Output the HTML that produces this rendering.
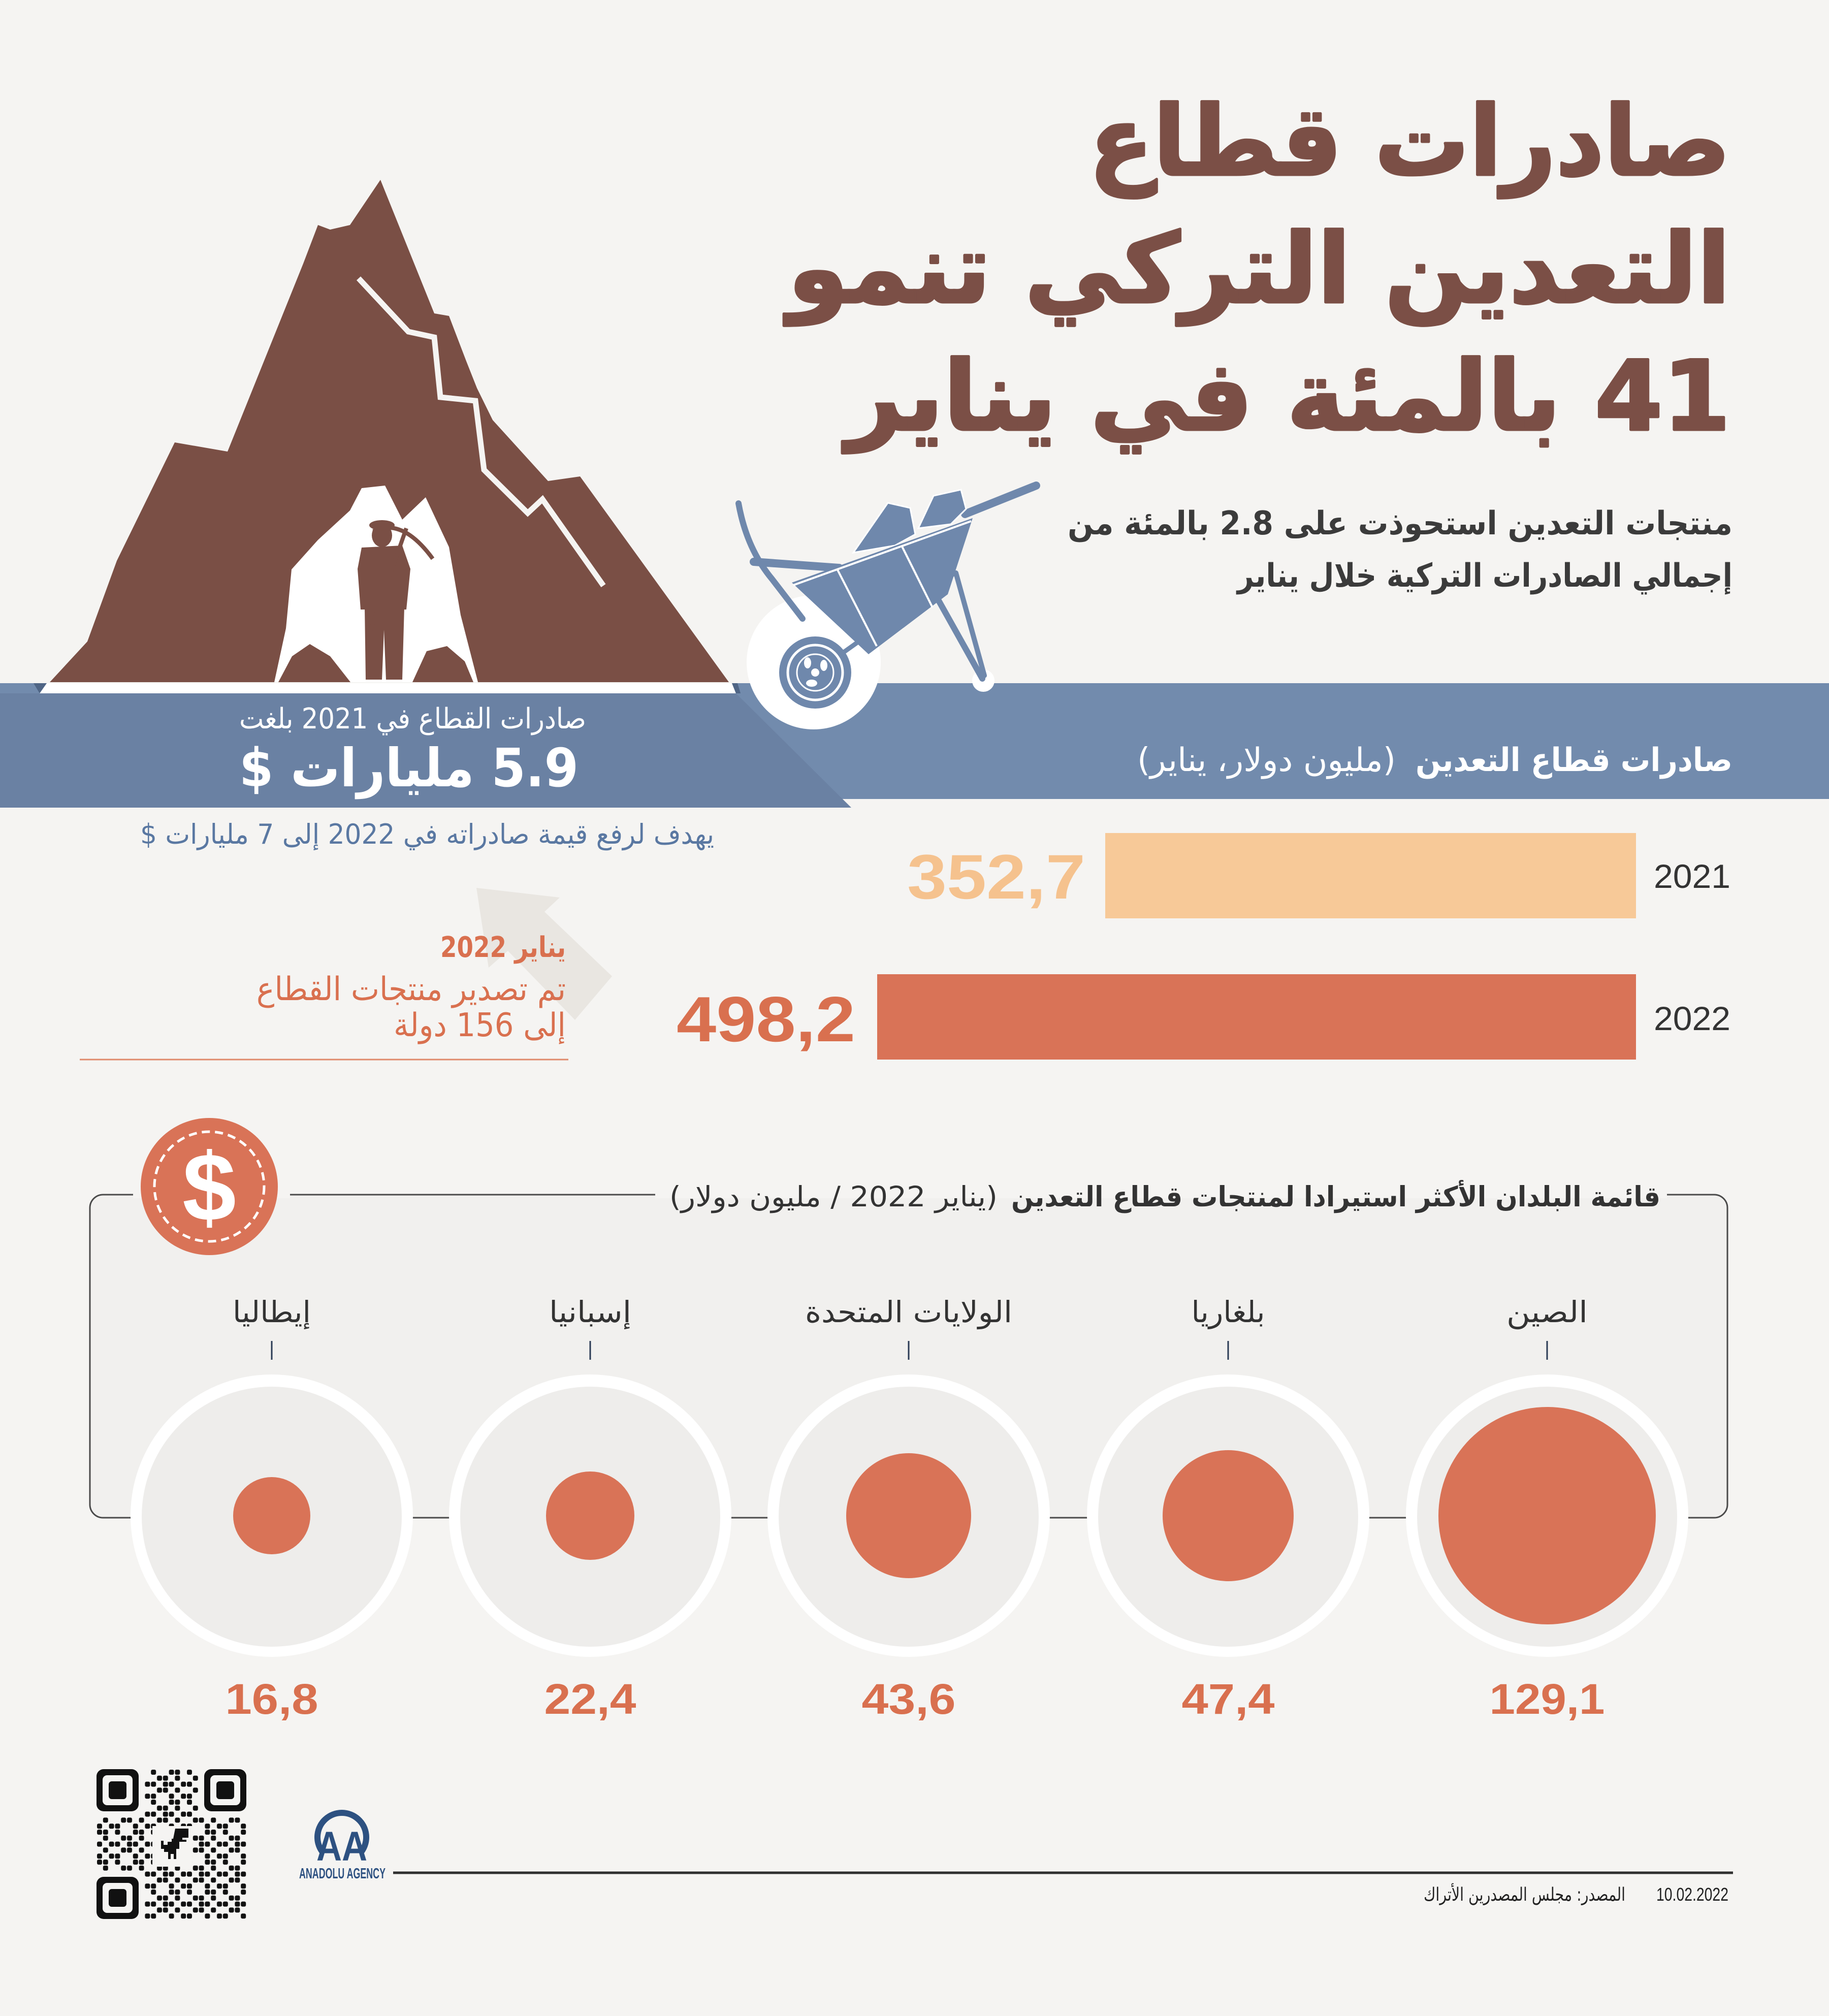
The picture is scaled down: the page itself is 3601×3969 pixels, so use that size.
<!DOCTYPE html>
<html lang="ar">
<head>
<meta charset="utf-8">
<style>
html,body{margin:0;padding:0;background:#f5f4f2;}
svg{display:block;}
.ar{font-family:"DejaVu Sans","Liberation Sans",sans-serif;}
.lat{font-family:"Liberation Sans","DejaVu Sans",sans-serif;}
</style>
</head>
<body>
<svg xmlns="http://www.w3.org/2000/svg" width="3601" height="3969" viewBox="0 0 3601 3969">
<defs>
<pattern id="qr" x="190" y="3483" width="70.8" height="59" patternUnits="userSpaceOnUse">
<g fill="#111">
<rect x="1" y="1" width="10" height="10" rx="3"/><rect x="12.8" y="1" width="10" height="10" rx="3"/><rect x="36.4" y="1" width="10" height="10" rx="3"/>
<rect x="48.2" y="12.8" width="10" height="10" rx="3"/><rect x="60" y="12.8" width="10" height="10" rx="3"/><rect x="12.8" y="12.8" width="10" height="10" rx="3"/>
<rect x="1" y="24.6" width="10" height="10" rx="3"/><rect x="24.6" y="24.6" width="10" height="10" rx="3"/><rect x="36.4" y="24.6" width="10" height="10" rx="3"/><rect x="60" y="24.6" width="10" height="10" rx="3"/>
<rect x="12.8" y="36.4" width="10" height="10" rx="3"/><rect x="48.2" y="36.4" width="10" height="10" rx="3"/><rect x="60" y="36.4" width="10" height="10" rx="3"/>
<rect x="1" y="48.2" width="10" height="10" rx="3"/><rect x="24.6" y="48.2" width="10" height="10" rx="3"/><rect x="36.4" y="48.2" width="10" height="10" rx="3"/>
</g>
</pattern>
</defs>

<rect x="0" y="0" width="3601" height="3969" fill="#f5f4f2"/>

<!-- ===== Mountain ===== -->
<path d="M98 1343 L172 1263 L230 1104 L344 871 L448 889 L597 519 L626 443 L650 452 L689 443 L749 354 L855 617 L884 622 L918 711 L939 764 L970 827 L1079 947 L1142 938 L1435 1343 Z" fill="#7a4f45"/>
<polyline points="706,548 804,653 855,664 867,782 936,789 953,925 1039,1010 1068,983 1188,1153" fill="none" stroke="#f5f4f2" stroke-width="11" stroke-linejoin="miter"/>
<path d="M540 1343 L563 1237 L574 1121 L626 1063 L689 1005 L712 961 L758 956 L792 1023 L838 979 L884 1077 L907 1211 L941 1343 Z" fill="#ffffff"/>
<path d="M548 1343 L575 1292 L610 1268 L650 1292 L690 1343 Z" fill="#7a4f45"/>
<path d="M812 1343 L840 1282 L880 1272 L915 1302 L932 1343 Z" fill="#7a4f45"/>
<g fill="#7a4f45" stroke="none">
<ellipse cx="752" cy="1054" rx="20" ry="23"/>
<ellipse cx="752" cy="1034" rx="25" ry="10"/>
<path d="M712 1078 L792 1074 L808 1120 L800 1200 L710 1200 L704 1120 Z"/>
<path d="M718 1195 L796 1195 L792 1338 L760 1338 L756 1240 L752 1338 L720 1338 Z"/>
</g>
<line x1="728" y1="1245" x2="800" y2="1040" stroke="#7a4f45" stroke-width="8"/>
<path d="M735 1046 Q792 1018 852 1100" fill="none" stroke="#7a4f45" stroke-width="8"/>

<!-- ===== Blue band ===== -->
<rect x="0" y="1345" width="3601" height="228" fill="#728bad"/>
<rect x="0" y="1345" width="90" height="245" fill="#728bad"/>
<path d="M75 1365 L1449 1365 L1676 1590 L0 1590 L0 1365 Z" fill="#6a81a3"/>
<path d="M92 1345 L1441 1345 L1449 1365 L78 1365 Z" fill="#ffffff"/>
<path d="M66 1345 L92 1345 L78 1365 Z" fill="#4f6585"/>
<path d="M1441 1345 L1452 1345 L1458 1365 L1449 1365 Z" fill="#4f6585"/>

<!-- ===== Wheelbarrow ===== -->
<circle cx="1602" cy="1304" r="132" fill="#ffffff"/>
<circle cx="1936" cy="1340" r="22" fill="#ffffff"/>
<g stroke="#6f88ac" stroke-linecap="round" fill="none">
<path d="M1454 991 Q1470 1080 1520 1140 L1580 1218" stroke-width="12"/>
<line x1="1484" y1="1106" x2="1652" y2="1118" stroke-width="16"/>
<line x1="1605" y1="1324" x2="1880" y2="1128" stroke-width="9"/>
<line x1="1840" y1="1168" x2="1934" y2="1336" stroke-width="12"/>
<line x1="1882" y1="1128" x2="1938" y2="1330" stroke-width="10"/>
<line x1="1900" y1="1012" x2="2040" y2="956" stroke-width="16"/>
</g>
<path d="M1680 1088 L1748 990 L1792 1000 L1802 1052 L1762 1074 Z" fill="#6f88ac" stroke="#ffffff" stroke-width="3"/>
<path d="M1808 1040 L1838 976 L1892 964 L1902 1002 L1872 1032 Z" fill="#6f88ac" stroke="#ffffff" stroke-width="3"/>
<path d="M1559 1147 L1915 1020 L1866 1170 L1710 1288 Z" fill="#6f88ac"/>
<line x1="1562" y1="1152" x2="1912" y2="1026" stroke="#ffffff" stroke-width="4"/>
<line x1="1648" y1="1120" x2="1726" y2="1272" stroke="#ffffff" stroke-width="4"/>
<line x1="1775" y1="1074" x2="1836" y2="1196" stroke="#ffffff" stroke-width="4"/>
<circle cx="1605" cy="1324" r="71" fill="#6f88ac"/>
<circle cx="1605" cy="1324" r="54" fill="none" stroke="#ffffff" stroke-width="5"/>
<circle cx="1605" cy="1324" r="36" fill="none" stroke="#ffffff" stroke-width="3"/>
<ellipse cx="1590" cy="1305" rx="7" ry="11" fill="#ffffff"/>
<ellipse cx="1622" cy="1310" rx="7" ry="11" fill="#ffffff"/>
<ellipse cx="1598" cy="1345" rx="11" ry="7" fill="#ffffff"/>
<circle cx="1605" cy="1324" r="8" fill="#ffffff"/>

<!-- ===== Title ===== -->
<g class="ar" font-weight="bold" fill="#7b4f46" stroke="#7b4f46" stroke-width="5" stroke-linejoin="round" font-size="190" text-anchor="end">
<text x="3407" y="344" textLength="1263" lengthAdjust="spacingAndGlyphs">&#x200F;صادرات قطاع&#x200F;</text>
<text x="3407" y="595" textLength="1856" lengthAdjust="spacingAndGlyphs">&#x200F;التعدين التركي تنمو&#x200F;</text>
<text x="3407" y="846" textLength="1741" lengthAdjust="spacingAndGlyphs">&#x200F;41 بالمئة في يناير&#x200F;</text>
</g>

<g class="ar" font-weight="bold" fill="#3b3b3b" font-size="64" text-anchor="end">
<text x="3411" y="1052" textLength="1309" lengthAdjust="spacingAndGlyphs">&#x200F;منتجات التعدين استحوذت على 2.8 بالمئة من&#x200F;</text>
<text x="3411" y="1155" textLength="975" lengthAdjust="spacingAndGlyphs">&#x200F;إجمالي الصادرات التركية خلال يناير&#x200F;</text>
</g>

<text class="ar" x="3411" y="1518" font-size="64" font-weight="bold" fill="#ffffff" text-anchor="end" textLength="624" lengthAdjust="spacingAndGlyphs">&#x200F;صادرات قطاع التعدين&#x200F;</text>
<text class="ar" x="2748" y="1518" font-size="64" fill="#ffffff" text-anchor="end" textLength="509" lengthAdjust="spacingAndGlyphs">&#x200F;(مليون دولار، يناير)&#x200F;</text>
<text class="ar" x="1154" y="1434" font-size="56" fill="#ffffff" text-anchor="end" textLength="683" lengthAdjust="spacingAndGlyphs">&#x200F;صادرات القطاع في 2021 بلغت&#x200F;</text>
<text class="ar" x="1139" y="1548" font-size="104" font-weight="bold" fill="#ffffff" text-anchor="end" textLength="668" lengthAdjust="spacingAndGlyphs">&#x200F;5.9 مليارات $&#x200F;</text>
<text class="ar" x="1406" y="1661" font-size="54" fill="#5a78a2" text-anchor="end" textLength="1130" lengthAdjust="spacingAndGlyphs">&#x200F;يهدف لرفع قيمة صادراته في 2022 إلى 7 مليارات $&#x200F;</text>

<path d="M938 1748 L1102 1767 L1072 1795 L1205 1922 L1132 2008 L1000 1872 L962 1905 Z" fill="#e9e6e1"/>

<g class="ar" fill="#d9704f" text-anchor="end">
<text x="1114" y="1884" font-size="56" font-weight="bold" textLength="247" lengthAdjust="spacingAndGlyphs">&#x200F;يناير 2022&#x200F;</text>
<text x="1114" y="1969" font-size="64" textLength="609" lengthAdjust="spacingAndGlyphs">&#x200F;تم تصدير منتجات القطاع&#x200F;</text>
<text x="1114" y="2040" font-size="64" textLength="339" lengthAdjust="spacingAndGlyphs">&#x200F;إلى 156 دولة&#x200F;</text>
</g>
<line x1="157" y1="2086" x2="1119" y2="2086" stroke="#e08a6c" stroke-width="3"/>

<!-- ===== Bars ===== -->
<rect x="2176" y="1640" width="1045" height="168" fill="#f7c998"/>
<rect x="1727" y="1918" width="1494" height="168" fill="#d97357"/>
<g class="lat" fill="#333333" font-size="66" text-anchor="end">
<text x="3407" y="1748" textLength="151" lengthAdjust="spacingAndGlyphs">2021</text>
<text x="3407" y="2028" textLength="151" lengthAdjust="spacingAndGlyphs">2022</text>
</g>
<text class="lat" x="2137" y="1769" font-size="124" font-weight="bold" fill="#f5c28e" text-anchor="end" textLength="351" lengthAdjust="spacingAndGlyphs">352,7</text>
<text class="lat" x="1684" y="2050" font-size="126" font-weight="bold" fill="#d9704f" text-anchor="end" textLength="352" lengthAdjust="spacingAndGlyphs">498,2</text>

<!-- ===== Countries box ===== -->
<rect x="177" y="2352" width="3224" height="636" rx="26" fill="#f1f0ee" stroke="#4a4a4a" stroke-width="3"/>
<rect x="1290" y="2345" width="1992" height="14" fill="#f5f4f2"/>
<rect x="262" y="2345" width="309" height="14" fill="#f5f4f2"/>
<circle cx="412" cy="2336" r="135" fill="#d97357"/>
<circle cx="412" cy="2336" r="108" fill="none" stroke="#ffffff" stroke-width="5" stroke-dasharray="16 10"/>
<text class="lat" x="412" y="2403" font-size="190" font-weight="bold" fill="#ffffff" text-anchor="middle">$</text>

<text class="ar" x="3269" y="2375" font-size="55" font-weight="bold" fill="#333333" text-anchor="end" textLength="1278" lengthAdjust="spacingAndGlyphs">&#x200F;قائمة البلدان الأكثر استيرادا لمنتجات قطاع التعدين&#x200F;</text>
<text class="ar" x="1964" y="2375" font-size="55" fill="#333333" text-anchor="end" textLength="646" lengthAdjust="spacingAndGlyphs">&#x200F;(يناير 2022 / مليون دولار)&#x200F;</text>

<g class="ar" font-size="58" fill="#333333" text-anchor="middle">
<text x="3046" y="2603" textLength="160" lengthAdjust="spacingAndGlyphs">&#x200F;الصين&#x200F;</text>
<text x="2418" y="2603" textLength="145" lengthAdjust="spacingAndGlyphs">&#x200F;بلغاريا&#x200F;</text>
<text x="1789" y="2603" textLength="408" lengthAdjust="spacingAndGlyphs">&#x200F;الولايات المتحدة&#x200F;</text>
<text x="1162" y="2603" textLength="162" lengthAdjust="spacingAndGlyphs">&#x200F;إسبانيا&#x200F;</text>
<text x="535" y="2603" textLength="154" lengthAdjust="spacingAndGlyphs">&#x200F;إيطاليا&#x200F;</text>
</g>
<g stroke="#2b3b55" stroke-width="3">
<line x1="3046" y1="2640" x2="3046" y2="2677"/>
<line x1="2418" y1="2640" x2="2418" y2="2677"/>
<line x1="1789" y1="2640" x2="1789" y2="2677"/>
<line x1="1162" y1="2640" x2="1162" y2="2677"/>
<line x1="535" y1="2640" x2="535" y2="2677"/>
</g>

<g fill="#ffffff">
<circle cx="535" cy="2984" r="278"/>
<circle cx="1162" cy="2984" r="278"/>
<circle cx="1789" cy="2984" r="278"/>
<circle cx="2418" cy="2984" r="278"/>
<circle cx="3046" cy="2984" r="278"/>
</g>
<g fill="#eeedeb">
<circle cx="535" cy="2986" r="256"/>
<circle cx="1162" cy="2986" r="256"/>
<circle cx="1789" cy="2986" r="256"/>
<circle cx="2418" cy="2986" r="256"/>
<circle cx="3046" cy="2986" r="256"/>
</g>
<g fill="#d97357">
<circle cx="535" cy="2984" r="76"/>
<circle cx="1162" cy="2984" r="87"/>
<circle cx="1789" cy="2984" r="123"/>
<circle cx="2418" cy="2984" r="129"/>
<circle cx="3046" cy="2984" r="214"/>
</g>

<g class="lat" font-size="84" font-weight="bold" fill="#d9704f" text-anchor="middle">
<text x="3046" y="3374" textLength="227" lengthAdjust="spacingAndGlyphs">129,1</text>
<text x="2418" y="3374" textLength="183" lengthAdjust="spacingAndGlyphs">47,4</text>
<text x="1789" y="3374" textLength="185" lengthAdjust="spacingAndGlyphs">43,6</text>
<text x="1162" y="3374" textLength="181" lengthAdjust="spacingAndGlyphs">22,4</text>
<text x="535" y="3374" textLength="183" lengthAdjust="spacingAndGlyphs">16,8</text>
</g>

<!-- ===== Footer ===== -->
<rect x="190" y="3483" width="295" height="295" fill="url(#qr)"/>
<rect x="186" y="3479" width="98" height="98" fill="#f5f4f2"/>
<rect x="391" y="3479" width="98" height="98" fill="#f5f4f2"/>
<rect x="186" y="3684" width="98" height="98" fill="#f5f4f2"/>
<rect x="300" y="3595" width="78" height="80" fill="#f5f4f2"/>
<g>
<rect x="190" y="3483" width="83" height="83" rx="14" fill="#111"/>
<rect x="202" y="3495" width="59" height="59" rx="9" fill="#f5f4f2"/>
<rect x="214" y="3507" width="35" height="35" rx="6" fill="#111"/>
<rect x="402" y="3483" width="83" height="83" rx="14" fill="#111"/>
<rect x="414" y="3495" width="59" height="59" rx="9" fill="#f5f4f2"/>
<rect x="426" y="3507" width="35" height="35" rx="6" fill="#111"/>
<rect x="190" y="3695" width="83" height="83" rx="14" fill="#111"/>
<rect x="202" y="3707" width="59" height="59" rx="9" fill="#f5f4f2"/>
<rect x="214" y="3719" width="35" height="35" rx="6" fill="#111"/>
</g>
<path d="M345 3600 h26 v18 h-12 v4 h8 v4 h-14 v14 h-6 v20 h-5 v-10 h-6 v10 h-5 v-14 h-8 v-6 h-6 v-16 h5 v8 h8 v-6 h8 v-6 h3 Z" fill="#111"/>

<path d="M634 3645 A48 48 0 1 1 712 3645" fill="none" stroke="#2d5181" stroke-width="12"/>
<text class="lat" x="673" y="3663" font-size="82" font-weight="bold" fill="#2d5181" text-anchor="middle" textLength="100" lengthAdjust="spacingAndGlyphs">AA</text>
<text class="lat" x="674" y="3698" font-size="29" font-weight="bold" fill="#2d5181" text-anchor="middle" textLength="170" lengthAdjust="spacingAndGlyphs">ANADOLU AGENCY</text>

<line x1="774" y1="3687" x2="3412" y2="3687" stroke="#2f2f2f" stroke-width="5"/>
<text class="lat" x="3403" y="3742" font-size="36" fill="#222222" text-anchor="end" textLength="142" lengthAdjust="spacingAndGlyphs">10.02.2022</text>
<text class="ar" x="3200" y="3742" font-size="36" fill="#222222" text-anchor="end" textLength="397" lengthAdjust="spacingAndGlyphs">&#x200F;المصدر: مجلس المصدرين الأتراك&#x200F;</text>
</svg>
</body>
</html>
